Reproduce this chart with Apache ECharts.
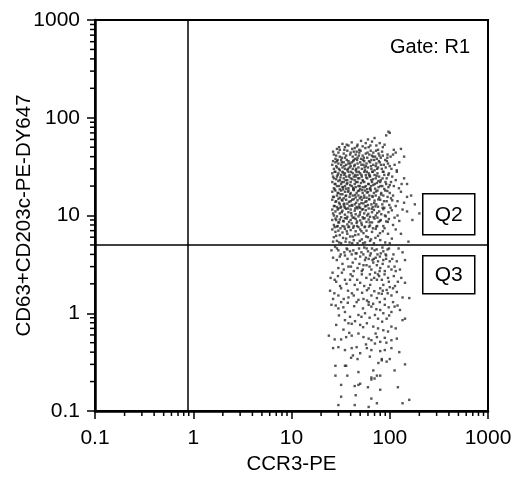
<!DOCTYPE html>
<html>
<head>
<meta charset="utf-8">
<script src="https://cdn.jsdelivr.net/npm/echarts@6/dist/echarts.min.js"></script>
<style>
html,body{margin:0;padding:0;background:#fff;}
#chart{width:516px;height:477px;}
</style>
</head>
<body>
<div id="chart"></div>
<script>
// ---- data ----
const xTickLabels = ['0.1', '1', '10', '100', '1000'];
const yTickLabels = ['0.1', '1', '10', '100', '1000'];
const xMinorTicks = [0.2,0.3,0.4,0.5,0.6,0.7,0.8,0.9,2,3,4,5,6,7,8,9,20,30,40,50,60,70,80,90,200,300,400,500,600,700,800,900];
const yMinorTicks = [0.2,0.3,0.4,0.5,0.6,0.7,0.8,0.9,2,3,4,5,6,7,8,9,20,30,40,50,60,70,80,90,200,300,400,500,600,700,800,900];
const quadX = 0.88;
const quadY = 5;
const xTitle = 'CCR3-PE';
const yTitle = 'CD63+CD203c-PE-DY647';
const gateText = 'Gate: R1';
const quadLabels = ['Q2', 'Q3'];

// upper population (above the horizontal gate), by bands
const bandTop = [[33,54],[35,50],[38,52],[41,56],[44,49],[47,53],[51,58],[53,51],[57,55],[61,50],[66,57],[70,62],[73,52],[79,55],[85,50],[97,72],[100,70],[92,66],[110,47],[130,48],[60,60],[31,47],[29,48],[37,46],[43,45],[49,47],[64,46],[76,47]];
const band40 = [[27,42],[28,38],[30,44],[31,40],[32,37],[34,43],[35,39],[36,41],[38,36],[40,44],[42,40],[43,37],[45,42],[47,39],[49,44],[51,38],[53,41],[55,36],[57,43],[59,39],[62,42],[65,37],[68,44],[71,40],[74,38],[77,43],[81,39],[85,41],[90,37],[95,42],[102,40],[115,44],[29,36],[46,45],[66,41]];
const band32 = [[26,33],[27,30],[28,35],[29,31],[30,34],[31,29],[32,33],[33,31],[34,35],[35,30],[36,33],[37,29],[38,34],[39,31],[41,35],[42,30],[44,33],[45,29],[47,34],[48,31],[50,35],[52,30],[54,33],[56,29],[58,34],[60,31],[63,35],[65,30],[68,33],[70,29],[73,34],[76,31],[79,35],[83,30],[87,33],[91,31],[96,34],[104,30],[112,33],[125,35],[40,32],[57,32],[72,32]];
const band26 = [[26,27],[27,24],[28,28],[29,25],[30,27],[31,23],[32,26],[33,28],[34,24],[35,27],[36,25],[37,23],[38,28],[39,26],[40,24],[42,27],[43,25],[44,23],[46,28],[47,26],[49,24],[50,27],[52,25],[53,23],[55,28],[57,26],[59,24],[61,27],[63,25],[65,23],[67,28],[70,26],[72,24],[75,27],[78,25],[81,23],[85,28],[88,26],[93,24],[98,27],[106,25],[118,28],[140,24],[45,25],[62,26]];
const band21 = [[26,22],[27,19],[28,21],[29,20],[30,22.5],[31,18.5],[32,21],[33,19.5],[34,22],[35,20],[36,18.8],[37,21.5],[38,19],[40,22],[41,20],[43,18.6],[44,21],[45,19.5],[47,22],[48,20],[50,18.7],[51,21.5],[53,19.5],[55,22],[57,20],[59,18.6],[61,21],[63,19],[66,22],[68,20.5],[71,18.8],[74,21.5],[77,19.5],[80,22],[84,20],[88,18.7],[92,21],[97,19.5],[103,22],[110,20],[124,19],[150,21]];
const band17 = [[26,17.5],[27,15.5],[28,18],[29,16],[30,17],[31,15.2],[32,18],[33,16.5],[34,15],[35,17.5],[36,16],[38,18],[39,15.5],[40,17],[42,16],[43,18.2],[45,15.3],[46,17],[48,16],[49,18],[51,15.5],[53,17],[55,16],[56,18],[58,15.2],[60,17.3],[62,16],[64,18],[67,15.5],[69,17],[72,16],[75,18],[78,15.3],[82,17],[86,16],[90,18],[95,15.5],[100,17],[108,16],[130,17.5],[165,16]];
const band13 = [[26,14.5],[27,12.5],[28,13.8],[29,12.2],[30,14.8],[31,13],[32,12.3],[33,14.2],[34,13],[35,12],[36,14.5],[37,13.2],[39,12.5],[40,14],[41,12.8],[43,14.7],[44,13],[46,12.2],[47,14.3],[49,13],[50,12],[52,14.5],[54,13.3],[56,12.4],[58,14],[60,12.8],[62,14.6],[65,13],[67,12.2],[70,14.2],[73,13],[76,12.3],[80,14.5],[84,13],[88,12],[93,14],[99,12.8],[106,14.3],[115,12.5],[140,13.5],[180,13]];
const band10 = [[26,11.5],[27,10],[28,11],[29,9.8],[30,11.8],[31,10.5],[32,9.6],[33,11.2],[35,10.2],[36,11.7],[37,9.7],[38,10.8],[40,11.5],[41,10],[42,9.5],[44,11.2],[45,10.3],[47,11.8],[48,9.8],[50,10.8],[52,11.5],[53,9.6],[55,10.5],[57,11.3],[59,10],[61,11.8],[63,9.7],[66,10.8],[69,11.4],[72,10],[75,9.5],[78,11],[82,10.3],[86,11.6],[91,9.8],[97,10.8],[105,11.3],[120,10],[150,11],[200,10.5]];
const band8 = [[26,9],[27,8],[28,9.3],[29,7.7],[30,8.5],[31,9.1],[33,7.8],[34,8.7],[35,9.4],[37,8.1],[38,7.6],[40,9],[41,8.3],[43,7.8],[45,9.2],[46,8.4],[48,7.6],[50,8.9],[52,8],[54,9.3],[56,7.7],[58,8.6],[61,9.1],[63,7.9],[66,8.5],[70,9.3],[73,7.7],[77,8.6],[81,9],[86,7.8],[92,8.7],[98,9.2],[108,8],[125,8.8],[170,9]];
const band6 = [[26,7.2],[27,6],[28,6.8],[29,5.5],[30,7],[31,6.3],[32,5.2],[33,6.7],[35,7.3],[36,5.8],[37,6.5],[39,5.3],[40,7.1],[42,6.1],[43,5.6],[45,6.9],[47,5.2],[48,6.4],[50,7.2],[52,5.7],[54,6.6],[56,5.3],[58,7],[60,6],[63,5.5],[66,6.8],[69,5.2],[72,7.3],[76,6.2],[80,5.6],[85,6.9],[90,5.3],[96,6.5],[105,5.8],[130,6.5],[155,5.4]];
const bandX1 = [[26.5,45],[28.5,41],[30.5,50],[32.5,39],[34.5,47],[36.5,53],[39.5,42],[41.5,48],[44.5,38],[46.5,51],[48.5,41],[50.5,46],[54.5,39],[56.5,49],[59.5,44],[63.5,52],[67.5,40],[72.5,46],[78.5,41],[83.5,45],[88.5,53],[94.5,39],[108,42],[140,40]];
const bandX2 = [[26.5,36],[27.5,28],[28.5,32],[29.5,37],[30.5,30],[32.5,35],[33.5,27.5],[34.5,32],[36.5,37],[37.5,30],[39.5,34],[40.5,28],[42.5,36],[43.5,32],[45.5,30],[46.5,37],[48.5,28],[51.5,33],[53.5,37],[55.5,31],[58.5,28],[61.5,36],[64.5,32],[66.5,28],[69.5,37],[74.5,30],[77.5,36],[81.5,33],[86.5,28],[93.5,36],[100,32],[118,29]];
const bandX3 = [[26.5,25],[27.5,21],[28.5,23.5],[29.5,26],[30.5,20],[31.5,24.5],[32.5,22],[33.5,19.5],[34.5,26],[35.5,23],[36.5,21],[38.5,25],[39.5,20.5],[41.5,23.5],[42.5,19.2],[44.5,26],[45.5,22],[47.5,24],[49.5,20],[51.5,26],[53.5,22.5],[55.5,19.5],[57.5,24.5],[60.5,21],[62.5,25.5],[64.5,20],[67.5,23.5],[70.5,21],[73.5,25.5],[76.5,22.5],[80.5,20],[84.5,24],[90.5,22],[96.5,26],[100,20.5],[115,23],[132,21]];
const bandX4 = [[26.5,15.5],[27.5,18.5],[28.5,14],[29.5,17],[30.5,13.5],[31.5,16.5],[32.5,14.5],[33.5,18.5],[34.5,13.2],[35.5,15.8],[37.5,17.5],[38.5,13.8],[39.5,16.5],[41.5,14.5],[42.5,18.5],[44.5,16.2],[45.5,13.5],[47.5,17.8],[49.5,15],[51.5,13.4],[52.5,18.2],[54.5,15.2],[56.5,13.8],[58.5,17.2],[61.5,14.8],[63.5,18.6],[66.5,15.8],[69.5,13.4],[72.5,17.6],[76.5,14.6],[81.5,16.4],[87.5,14],[94.5,17.8],[103,15],[120,14],[150,15.5]];
const bandX5 = [[26.5,10.5],[27.5,12.5],[28.5,9],[29.5,11.5],[30.5,8.5],[31.5,12],[32.5,10.8],[33.5,8.8],[34.5,12.4],[36.5,9.3],[37.5,11.8],[38.5,8.6],[40.5,10.6],[41.5,12.6],[43.5,9.5],[44.5,11.8],[46.5,8.7],[48.5,12.3],[49.5,10.2],[51.5,8.4],[53.5,11.6],[55.5,9.4],[57.5,12.5],[60.5,10.4],[62.5,8.5],[65.5,11.7],[68.5,9.6],[71.5,12.4],[74.5,10.6],[79.5,8.8],[84.5,12],[89.5,10],[95.5,8.6],[102,12],[112,9.5],[135,11.5]];
const bandX6 = [[26.5,5.4],[27.5,7.6],[28.5,6.2],[29.5,7.8],[30.5,5.3],[31.5,7.4],[33.5,5.9],[34.5,7.7],[35.5,5.4],[36.5,6.9],[38.5,7.7],[39.5,6.1],[41.5,5.2],[42.5,7.5],[44.5,6.3],[46.5,7.8],[49.5,5.5],[51.5,6.9],[53.5,5.2],[55.5,7.6],[57.5,6.1],[61.5,7.7],[64.5,5.7],[67.5,7.4],[71.5,5.9],[74.5,7.8],[79.5,6.6],[88.5,7.4],[100,5.2],[115,7.2]];

// lower population (below the horizontal gate)
const lowerA = [[25.5,4.4],[30,4.4],[34.5,4.2],[39.4,4.3],[45,4.1],[51.5,4.2],[60,4.3],[70,4.4],[75,4.0],[86,4.3],[135,4.2],
[26.5,3.7],[31,3.8],[35,3.9],[41,4.0],[46,4.1],[50,3.8],[56,3.5],[63,3.9],[72,3.7],[76,3.4],[86,3.5],[100,3.4],[118,3.4],[143,3.5],
[25,2.3],[27.5,2.2],[30,2.9],[34,2.8],[38,3.0],[43,2.7],[47,2.9],[54,3.1],[58,3.1],[65,2.8],[71,2.6],[80,2.9],[89,2.7],[104,2.8],[112,3.0],[127,2.8],
[24.7,1.7],[28.5,2.1],[32,1.8],[35,2.2],[39.4,2.2],[44,1.95],[50,2.05],[55,1.9],[61,1.8],[65,2.2],[74,2.2],[80,1.8],[86,1.95],[93,1.73],[100,1.85],[108,1.8],[121,2.1],[143,2.05],
[26.5,1.4],[30,1.52],[34,1.4],[38,1.45],[43,1.52],[48,1.37],[54,1.4],[61,1.3],[65,1.52],[74,1.43],[83,1.58],[89,1.4],[104,1.52],[118,1.65],[135,1.45],[158,1.43],
[29,4.6],[37,4.5],[55,4.7],[66,4.6],[81,4.1],[95,4.5],[42,3.3],[61,3.6],[92,3.9],[33,3.2],[68,3.3],[52,2.5],[78,2.4],[40,2.5],[96,2.3]];
const lowerB = [[25.5,1.22],[30,1.12],[32,1.3],[35,1.03],[39.4,0.92],[38,0.79],[41,0.78],[46,1.3],[48,0.96],[51.5,0.92],[56,1.0],[61,1.22],[65,1.17],[70.7,0.96],[76,0.88],[80,1.08],[86,1.0],[89,1.22],[93,0.88],[104,1.03],[112,1.17],[127,1.08],[135,0.85],
[28.5,0.76],[35,0.85],[50,0.76],[58.5,0.79],[68,0.73],[76,0.70],[86,0.67],[96,0.65],[104,0.73],[143,0.88],
[24,0.59],[27.5,0.54],[32,0.54],[36,0.57],[41,0.59],[48,0.62],[54,0.57],[61,0.55],[65,0.53],[74,0.57],[80,0.51],[89,0.56],[104,0.53],[118,0.55],
[26.5,0.44],[30,0.45],[35,0.42],[41,0.44],[46,0.45],[50,0.39],[58.5,0.44],[65,0.42],[70.7,0.49],[80,0.41],[89,0.42],[104,0.44],[83,0.34]];
const lowerC = [[40.4,0.35],[47,0.34],[83,0.33],[93,0.32],[100,0.34],[143,0.30],[28,0.29],[35,0.29],[36,0.29],[48,0.25],[68,0.26],[112,0.26],
[28,0.23],[37,0.23],[65,0.22],[65,0.21],[70,0.215],[74,0.23],[80,0.23],[32,0.185],[44,0.18],[48,0.185],[50,0.19],[60,0.175],[80,0.165],[121,0.175],
[32,0.14],[45,0.145],[65,0.134],[158,0.13],[30,0.115],[44,0.115],[61,0.11],[74,0.12],[135,0.12]];
const lowerD = [[27.8,4.8],[31.7,4.0],[36.4,4.6],[42.6,4.4],[48.7,4.6],[53.9,4.0],[58.2,4.6],[64.1,4.1],[68.8,3.6],[73.6,4.5],[79.3,3.8],[84.2,4.7],[90.6,4.0],[98.3,4.6],[109,4.0],[123,4.6],
[28.9,3.5],[32.6,2.6],[37.2,3.6],[40.3,3.0],[44.8,3.6],[49.1,3.2],[53.2,2.8],[57.1,3.7],[62.3,3.0],[66.7,3.5],[73.9,3.1],[78.8,2.7],[84.7,3.2],[91.8,3.6],[97.2,3.0],[106,3.6],[115,2.7],
[26.2,2.6],[29.7,2.4],[36.3,2.0],[41.8,2.4],[46.6,2.2],[51.9,2.7],[57.8,2.3],[62.8,2.5],[69.4,2.3],[75.8,2.5],[83.1,2.2],[88.5,2.5],[97.9,2.1],[110,2.4],[131,2.3],
[27.3,1.6],[31.2,1.9],[37.6,1.7],[41.2,1.6],[46.9,1.75],[52.3,1.62],[58.6,1.72],[63.2,1.95],[69.7,1.68],[77.1,1.6],[84.9,1.7],[95.3,1.6],[113,1.9],
[28.2,1.2],[33.7,1.15],[37.4,1.28],[43.4,1.18],[53.4,1.12],[58.7,1.35],[67.8,1.25],[73.1,1.1],[79.2,1.3],[97.6,1.15],[108,1.3],[120,1.2]];
const lowerE = [[30.4,0.95],[33.8,0.68],[44.3,0.83],[53.6,0.72],[62.4,0.9],[71.8,0.62],[83.7,0.82],[98.6,0.95],[115,0.7],[38.7,0.63],[57.3,0.48],[92.4,0.5],[42.2,0.37],[62.7,0.36],[76.6,0.31],[125,0.4]];

// ---- chart ----
const upperPoints = [].concat(bandTop, band40, band32, band26, band21, band17, band13, band10, band8, band6,
  bandX1, bandX2, bandX3, bandX4, bandX5, bandX6);
const lowerPoints = [].concat(lowerA, lowerB, lowerC, lowerD, lowerE);
const FONT = 'Liberation Sans, Arial, sans-serif';
const chart = echarts.init(document.getElementById('chart'), null, {renderer: 'canvas'});

function tickLabel(labels) {
  return function (v) {
    const idx = Math.round(Math.log10(v)) + 1;
    return labels[idx] !== undefined ? labels[idx] : '';
  };
}

const option = {
  animation: false,
  backgroundColor: '#ffffff',
  grid: {left: 95, right: 28, top: 20, bottom: 66, show: true, borderColor: '#000', borderWidth: 2,
    backgroundColor: 'transparent', containLabel: false, outerBoundsMode: 'none'},
  xAxis: {
    type: 'log', logBase: 10, min: 0.1, max: 1000,
    name: xTitle, nameLocation: 'middle', nameGap: 43, nameMoveOverlap: false,
    nameTextStyle: {color: '#000', fontSize: 20.5, fontFamily: FONT},
    axisLine: {show: true, lineStyle: {color: '#000', width: 2.5}},
    axisTick: {show: true, inside: false, length: 8, lineStyle: {color: '#000', width: 1.5}},
    axisLabel: {color: '#000', fontSize: 21, fontFamily: FONT, margin: 17, formatter: tickLabel(xTickLabels), showMinLabel: true, showMaxLabel: true},
    splitLine: {show: false}
  },
  yAxis: {
    type: 'log', logBase: 10, min: 0.1, max: 1000,
    name: yTitle, nameLocation: 'middle', nameGap: 60, nameRotate: 90, nameMoveOverlap: false,
    nameTextStyle: {color: '#000', fontSize: 20.5, fontFamily: FONT},
    axisLine: {show: true, lineStyle: {color: '#000', width: 2.5}},
    axisTick: {show: true, inside: false, length: 8, lineStyle: {color: '#000', width: 1.5}},
    axisLabel: {color: '#000', fontSize: 21, fontFamily: FONT, margin: 15, formatter: tickLabel(yTickLabels), showMinLabel: true, showMaxLabel: true},
    splitLine: {show: false}
  },
  series: [
    {
      type: 'scatter', data: upperPoints, symbol: 'rect', symbolSize: 2.4,
      itemStyle: {color: '#2a2a2a'}, silent: true,
      markLine: {
        silent: true, symbol: 'none', animation: false,
        label: {show: false},
        lineStyle: {color: '#000', width: 1.5, type: 'solid'},
        data: [{xAxis: quadX}, {yAxis: quadY}]
      }
    },
    {
      type: 'scatter', data: lowerPoints, symbol: 'rect', symbolSize: 2.4,
      itemStyle: {color: '#2a2a2a'}, silent: true
    },
    {
      type: 'custom', silent: true, clip: false,
      data: xMinorTicks.map(function (v) { return [v, 0.1]; }),
      renderItem: function (params, api) {
        const p = api.coord([api.value(0), api.value(1)]);
        return {type: 'line', shape: {x1: p[0], y1: p[1], x2: p[0], y2: p[1] + 5}, style: {stroke: '#000', lineWidth: 1.5}};
      }
    },
    {
      type: 'custom', silent: true, clip: false,
      data: yMinorTicks.map(function (v) { return [0.1, v]; }),
      renderItem: function (params, api) {
        const p = api.coord([api.value(0), api.value(1)]);
        return {type: 'line', shape: {x1: p[0], y1: p[1], x2: p[0] - 5, y2: p[1]}, style: {stroke: '#000', lineWidth: 1.5}};
      }
    }
  ],
  graphic: [
    {type: 'text', right: 46, top: 37, style: {text: gateText, fill: '#000', font: '20px ' + FONT}},
    {type: 'group', left: 422, top: 193, children: [
      {type: 'rect', shape: {x: 0, y: 0, width: 52, height: 41}, style: {fill: '#fff', stroke: '#000', lineWidth: 1.5}},
      {type: 'text', x: 26, y: 21, style: {text: quadLabels[0], fill: '#000', font: '21px ' + FONT, align: 'center', verticalAlign: 'middle'}}
    ]},
    {type: 'group', left: 422, top: 255, children: [
      {type: 'rect', shape: {x: 0, y: 0, width: 52, height: 38}, style: {fill: '#fff', stroke: '#000', lineWidth: 1.5}},
      {type: 'text', x: 26, y: 19, style: {text: quadLabels[1], fill: '#000', font: '21px ' + FONT, align: 'center', verticalAlign: 'middle'}}
    ]}
  ]
};
chart.setOption(option);
</script>
</body>
</html>
